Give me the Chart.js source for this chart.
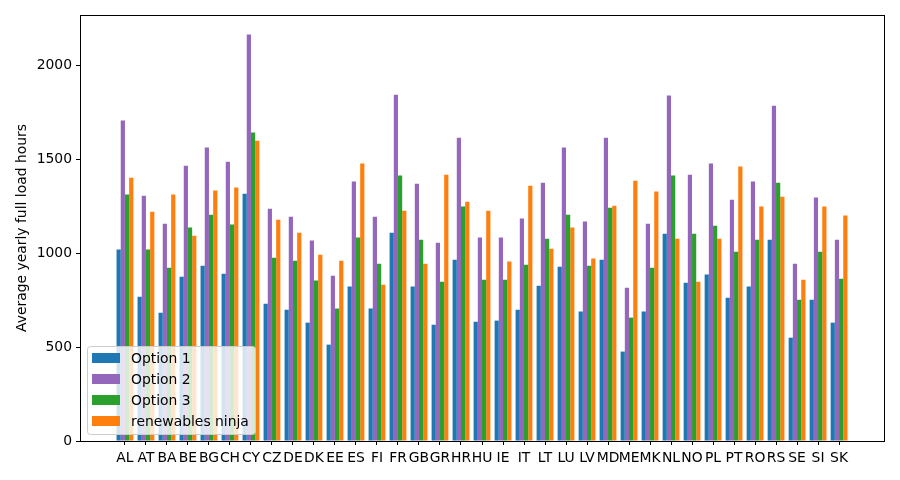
<!DOCTYPE html>
<html>
<head>
<meta charset="utf-8">
<script src="https://cdn.jsdelivr.net/npm/chart.js@4"></script>
<style>
  body { margin: 0; background: #fff; }
</style>
</head>
<body>
<canvas id="myChart" width="900" height="480"></canvas>
<script>
'use strict';

let countries = ['AL', 'AT', 'BA', 'BE', 'BG', 'CH', 'CY', 'CZ', 'DE', 'DK', 'EE', 'ES', 'FI', 'FR', 'GB', 'GR', 'HR', 'HU',
  'IE', 'IT', 'LT', 'LU', 'LV', 'MD', 'ME', 'MK', 'NL', 'NO', 'PL', 'PT', 'RO', 'RS', 'SE', 'SI', 'SK'];

let option1 = [1019, 768, 683, 875, 933, 891, 1317, 731, 699, 630, 513, 822, 705, 1109, 822, 619, 965, 635,
  641, 699, 827, 928, 689, 965, 476, 689, 1104, 843, 886, 763, 822, 1072, 550, 752, 630];
let option2 = [1706, 1306, 1157, 1466, 1562, 1487, 2164, 1237, 1194, 1067, 880, 1381, 1194, 1844, 1370, 1056, 1615, 1083,
  1083, 1184, 1375, 1562, 1168, 1615, 816, 1157, 1839, 1418, 1477, 1285, 1381, 1785, 944, 1296, 1072];
let option3 = [1312, 1019, 923, 1136, 1205, 1152, 1642, 976, 960, 854, 705, 1083, 944, 1413, 1072, 848, 1248, 859,
  859, 939, 1077, 1205, 933, 1242, 657, 923, 1413, 1104, 1146, 1008, 1072, 1375, 752, 1008, 864];
let ninja = [1402, 1221, 1312, 1093, 1333, 1349, 1599, 1178, 1109, 992, 960, 1477, 832, 1226, 944, 1418, 1274, 1226,
  955, 1359, 1024, 1136, 971, 1253, 1386, 1328, 1077, 848, 1077, 1461, 1248, 1301, 859, 1248, 1200];

let seriesNames = ['Option 1', 'Option 2', 'Option 3', 'renewables ninja'];
let yTicks = [0, 500, 1000, 1500, 2000];

const FONT = 'DejaVu Sans';
const FSIZE = 13.9;

function toPoints(values) {
  return values.map((v, i) => ({ x: i, y: v }));
}

function makeSet(label, values, color) {
  return {
    label: label,
    data: toPoints(values),
    backgroundColor: color,
    borderWidth: 0,
    categoryPercentage: 0.8,
    barPercentage: 1.0
  };
}

// matplotlib style legend in the lower left corner + top/right spines
const boxPlugin = {
  id: 'boxPlugin',
  afterDraw(chart) {
    const ctx = chart.ctx;
    const a = chart.chartArea;
    ctx.save();
    ctx.strokeStyle = '#000';
    ctx.lineWidth = 1;
    ctx.strokeRect(Math.round(a.left) + 0.5, Math.round(a.top) + 0.5,
      Math.round(a.right - a.left), Math.round(a.bottom - a.top));

    let x0 = a.left + 7.5, y0 = 346.5, w = 168, h = 88, r = 3;
    ctx.beginPath();
    ctx.moveTo(x0 + r, y0);
    ctx.arcTo(x0 + w, y0, x0 + w, y0 + h, r);
    ctx.arcTo(x0 + w, y0 + h, x0, y0 + h, r);
    ctx.arcTo(x0, y0 + h, x0, y0, r);
    ctx.arcTo(x0, y0, x0 + w, y0, r);
    ctx.closePath();
    ctx.fillStyle = 'rgba(255,255,255,0.8)';
    ctx.fill();
    ctx.strokeStyle = '#cccccc';
    ctx.stroke();

    ctx.font = FSIZE + 'px "' + FONT + '"';
    ctx.textBaseline = 'middle';
    ctx.textAlign = 'left';
    chart.data.datasets.forEach((ds, i) => {
      let cy = 358 + i * 21;
      ctx.fillStyle = ds.backgroundColor;
      ctx.fillRect(a.left + 12, cy - 5, 28, 10);
      ctx.fillStyle = '#000';
      ctx.fillText(ds.label, a.left + 51, cy + 1);
    });
    ctx.restore();
  }
};

const data = {
  datasets: [
    makeSet(seriesNames[0], option1, '#1f77b4'),
    makeSet(seriesNames[1], option2, '#9467bd'),
    makeSet(seriesNames[2], option3, '#2ca02c'),
    makeSet(seriesNames[3], ninja, '#ff7f0e')
  ]
};

const config = {
  type: 'bar',
  data: data,
  options: {
    responsive: false,
    animation: false,
    layout: { padding: { top: 15, right: 16, left: 0, bottom: 0 } },
    plugins: {
      legend: { display: false },
      tooltip: { enabled: false }
    },
    scales: {
      x: {
        type: 'linear',
        offset: false,
        min: -2.14,
        max: countries.length - 1 + 2.14,
        grid: { drawOnChartArea: false, drawTicks: true, tickLength: 4, color: '#000', offset: false },
        border: { display: true, color: '#000' },
        afterBuildTicks: (scale) => {
          scale.ticks = countries.map((c, i) => ({ value: i }));
        },
        afterFit: (scale) => { scale.height = 39; },
        ticks: {
          autoSkip: false,
          maxRotation: 0,
          padding: 5,
          color: '#000',
          font: { family: FONT, size: FSIZE },
          callback: (v) => countries[v]
        }
      },
      y: {
        min: 0,
        max: 2268,
        grid: { drawOnChartArea: false, drawTicks: true, tickLength: 4, color: '#000' },
        border: { display: true, color: '#000' },
        afterBuildTicks: (scale) => {
          scale.ticks = yTicks.map(v => ({ value: v }));
        },
        afterFit: (scale) => { scale.width = 80; },
        ticks: {
          padding: 4,
          color: '#000',
          font: { family: FONT, size: FSIZE },
          callback: (v) => String(v)
        },
        title: {
          display: true,
          text: 'Average yearly full load hours',
          color: '#000',
          font: { family: FONT, size: FSIZE },
          padding: { top: 14, bottom: 0 }
        }
      }
    }
  },
  plugins: [boxPlugin]
};

const myChart = new Chart(
  document.getElementById('myChart'),
  config
);
</script>
</body>
</html>
